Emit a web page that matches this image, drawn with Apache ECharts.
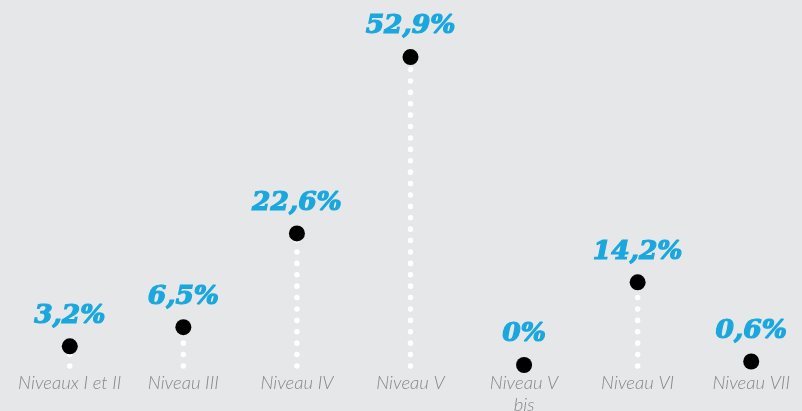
<!DOCTYPE html>
<html>
<head>
<meta charset="utf-8">
<script src="https://cdn.jsdelivr.net/npm/echarts@6/dist/echarts.min.js"></script>
<style>
  html, body { margin: 0; padding: 0; background: #e6e7e8; }
  #chart { width: 802px; height: 411px; }
</style>
</head>
<body>
<div id="chart"></div>
<script>
// Répartition par niveau de formation (%)
const categories = ['Niveaux I et II', 'Niveau III', 'Niveau IV', 'Niveau V', 'Niveau V\nbis', 'Niveau VI', 'Niveau VII'];
const values = [3.2, 6.5, 22.6, 52.9, 0, 14.2, 0.6];
const valueLabels = ['3,2%', '6,5%', '22,6%', '52,9%', '0%', '14,2%', '0,6%'];

const chart = echarts.init(document.getElementById('chart'), null, { renderer: 'canvas' });

chart.setOption({
  backgroundColor: '#e6e7e8',
  animation: false,
  grid: {
    left: 13, right: -6, top: 15.7, bottom: 46,
    containLabel: false,
    outerBoundsMode: 'none'
  },
  xAxis: {
    type: 'category',
    data: categories,
    axisLine: { show: false },
    axisTick: { show: false },
    splitLine: { show: false },
    axisLabel: {
      interval: 0,
      margin: 7,
      color: '#888888',
      fontFamily: 'Lato',
      fontStyle: 'italic',
      fontWeight: 300,
      fontSize: 18.5,
      lineHeight: 22
    }
  },
  yAxis: {
    type: 'value',
    min: 0,
    max: 60,
    show: false,
    splitLine: { show: false }
  },
  series: [
    {
      // pointillés blancs entre la base et le point
      type: 'custom',
      z: 1,
      data: values.map((v, i) => [i, v]),
      renderItem: function (params, api) {
        const top = api.coord([api.value(0), api.value(1)]);
        const base = api.coord([api.value(0), 0]);
        return {
          type: 'line',
          shape: { x1: base[0], y1: base[1] + 1, x2: top[0], y2: top[1] },
          style: {
            stroke: '#ffffff',
            lineWidth: 5.5,
            lineCap: 'round',
            lineDash: [0.1, 11.3]
          }
        };
      }
    },
    {
      type: 'scatter',
      z: 2,
      data: values,
      symbol: 'circle',
      symbolSize: 16,
      itemStyle: { color: '#000000', opacity: 1 },
      label: {
        show: true,
        position: 'top',
        distance: 9,
        formatter: p => valueLabels[p.dataIndex],
        color: '#1aa7de',
        fontFamily: 'DejaVu Serif',
        fontStyle: 'italic',
        fontWeight: 'bold',
        fontSize: 26.5,
        textBorderColor: '#1aa7de',
        textBorderWidth: 1.2
      }
    }
  ]
});
</script>
</body>
</html>
